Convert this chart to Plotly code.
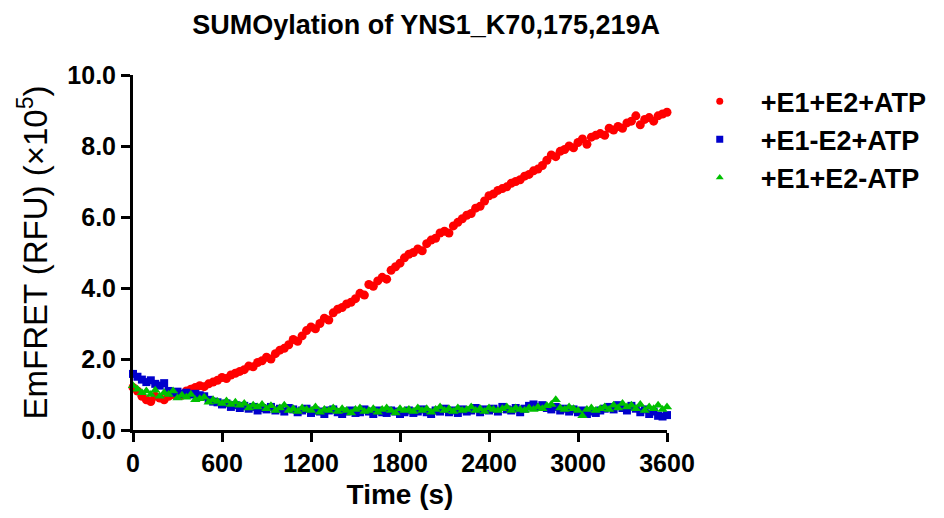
import plotly.graph_objects as go

time_s = list(range(0, 3601, 30))

e1_e2_atp = [1.20, 1.10, 0.95, 0.85, 0.80, 0.95, 0.90, 0.85, 0.95, 1.00,
             1.05, 0.98, 1.10, 1.15, 1.20, 1.25, 1.22, 1.30, 1.35, 1.40,
             1.48, 1.45, 1.55, 1.60, 1.65, 1.70, 1.80, 1.78, 1.90, 1.95,
             2.05, 2.00, 2.15, 2.25, 2.30, 2.40, 2.55, 2.50, 2.65, 2.80,
             2.90, 2.85, 3.00, 3.15, 3.10, 3.30, 3.40, 3.45, 3.55, 3.60,
             3.70, 3.85, 3.80, 4.10, 4.05, 4.20, 4.30, 4.25, 4.50, 4.60,
             4.70, 4.85, 4.95, 5.00, 5.10, 5.05, 5.25, 5.35, 5.40, 5.55,
             5.60, 5.55, 5.75, 5.85, 5.95, 6.05, 6.10, 6.25, 6.30, 6.45,
             6.60, 6.65, 6.75, 6.80, 6.85, 6.95, 7.00, 7.05, 7.15, 7.20,
             7.30, 7.35, 7.45, 7.60, 7.75, 7.70, 7.85, 7.90, 8.00, 7.95,
             8.10, 8.20, 8.05, 8.25, 8.30, 8.35, 8.30, 8.50, 8.45, 8.55,
             8.50, 8.65, 8.70, 8.85, 8.60, 8.75, 8.80, 8.70, 8.85, 8.90,
             8.95]

e1_noe2_atp = [1.58, 1.50, 1.42, 1.35, 1.40, 1.30, 1.25, 1.32, 1.10, 1.05,
               1.08, 1.02, 1.05, 1.00, 1.02, 0.98, 0.95, 0.85, 0.80, 0.78,
               0.72, 0.75, 0.65, 0.70, 0.62, 0.68, 0.60, 0.65, 0.55, 0.62,
               0.58, 0.65, 0.55, 0.60, 0.52, 0.62, 0.58, 0.50, 0.55, 0.60,
               0.48, 0.55, 0.52, 0.45, 0.55, 0.58, 0.50, 0.45, 0.52, 0.55,
               0.48, 0.50, 0.58, 0.52, 0.45, 0.55, 0.50, 0.48, 0.55, 0.52,
               0.45, 0.50, 0.55, 0.48, 0.52, 0.58, 0.50, 0.45, 0.55, 0.52,
               0.60, 0.50, 0.55, 0.48, 0.58, 0.52, 0.55, 0.62, 0.50, 0.58,
               0.55, 0.60, 0.52, 0.65, 0.58, 0.55, 0.62, 0.50, 0.60, 0.68,
               0.72, 0.65, 0.70, 0.62, 0.58, 0.65, 0.55, 0.60, 0.52, 0.58,
               0.50, 0.55, 0.45, 0.52, 0.48, 0.55, 0.60, 0.65, 0.58, 0.70,
               0.62, 0.55, 0.68, 0.60, 0.50, 0.58, 0.45, 0.52, 0.40, 0.38,
               0.42]

e1_e2_noatp = [1.25, 1.15, 1.05, 1.10, 1.00, 1.12, 0.95, 1.05, 1.00, 1.10,
               0.90, 0.98, 0.92, 1.00, 0.85, 0.88, 0.92, 0.78, 0.85, 0.80,
               0.75, 0.82, 0.72, 0.78, 0.70, 0.75, 0.62, 0.70, 0.65, 0.72,
               0.60, 0.68, 0.55, 0.62, 0.70, 0.55, 0.60, 0.52, 0.62, 0.58,
               0.55, 0.65, 0.50, 0.58, 0.55, 0.62, 0.52, 0.60, 0.55, 0.48,
               0.58, 0.62, 0.52, 0.55, 0.60, 0.50, 0.58, 0.62, 0.55, 0.48,
               0.60, 0.55, 0.58, 0.52, 0.62, 0.55, 0.60, 0.50, 0.58, 0.65,
               0.55, 0.60, 0.52, 0.62, 0.55, 0.58, 0.65, 0.55, 0.60, 0.52,
               0.62, 0.58, 0.55, 0.60, 0.65, 0.55, 0.62, 0.58, 0.55, 0.62,
               0.58, 0.65, 0.60, 0.68, 0.72, 0.85, 0.62, 0.58, 0.65, 0.60,
               0.55, 0.40, 0.58, 0.62, 0.55, 0.60, 0.65, 0.58, 0.70, 0.62,
               0.75, 0.65, 0.70, 0.60, 0.72, 0.55, 0.65, 0.60, 0.70, 0.58,
               0.65]

series_names = ["+E1+E2+ATP", "+E1-E2+ATP", "+E1+E2-ATP"]
x_ticks = [0, 600, 1200, 1800, 2400, 3000, 3600]
y_ticks = [0, 2, 4, 6, 8, 10]

FONT = "Liberation Sans, Arial, sans-serif"

fig = go.Figure()
styles = [
    dict(color="#ff0000", symbol="circle", size=9),
    dict(color="#0000cc", symbol="square", size=8),
    dict(color="#00c000", symbol="triangle-up", size=9),
]
for name, ys, st in zip(series_names, [e1_e2_atp, e1_noe2_atp, e1_e2_noatp], styles):
    fig.add_trace(go.Scatter(
        x=time_s, y=ys, mode="markers", name=name, showlegend=False,
        cliponaxis=False,
        marker=dict(color=st["color"], symbol=st["symbol"], size=st["size"], line=dict(width=0)),
    ))
# legend entries with the smaller legend symbols seen in the reference
for name, st in zip(series_names, styles):
    fig.add_trace(go.Scatter(
        x=[None], y=[None], mode="markers", name=name, showlegend=True,
        marker=dict(color=st["color"], symbol=st["symbol"], size=7, line=dict(width=0)),
    ))

axis_common = dict(
    showline=True, linecolor="black", linewidth=3,
    ticks="outside", tickcolor="black", tickwidth=3, ticklen=9,
    showgrid=False, zeroline=False, mirror=False,
    tickfont=dict(family=FONT, size=25, color="black", weight="bold"),
)

fig.update_layout(
    width=944, height=518,
    margin=dict(l=133, r=277, t=75, b=86),
    paper_bgcolor="white", plot_bgcolor="white",
    title=dict(text="SUMOylation of YNS1_K70,175,219A", x=0.549, xref="paper", xanchor="center",
               y=0.952, yref="container", yanchor="middle",
               font=dict(family=FONT, size=27, color="black", weight="bold")),
    xaxis=dict(range=[0, 3600], tickvals=x_ticks, ticktext=[str(v) for v in x_ticks],
               title=dict(text="Time (s)", standoff=9,
                          font=dict(family=FONT, size=28, color="black", weight="bold")),
               **axis_common),
    yaxis=dict(range=[0, 10], tickvals=y_ticks, ticktext=["%.1f" % v for v in y_ticks],
               title=dict(text="EmFRET (RFU) (×10<sup>5</sup>)", standoff=10,
                          font=dict(family=FONT, size=33, color="black")),
               **axis_common),
    legend=dict(x=1.022, xanchor="left", y=0.994, yanchor="top",
                itemwidth=72,
                font=dict(family=FONT, size=27, color="black", weight="bold"),
                bgcolor="rgba(0,0,0,0)"),
    showlegend=True,
)

fig.write_html("out.html")
